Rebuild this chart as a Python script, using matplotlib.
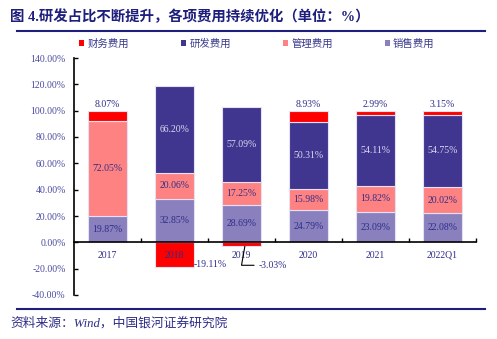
import matplotlib
matplotlib.use("Agg")
import matplotlib.pyplot as plt
from matplotlib.patches import Patch
from matplotlib.lines import Line2D
import numpy as np

plt.rcParams['font.family'] = ['Liberation Serif', 'Noto Sans CJK SC', 'DejaVu Sans']
plt.rcParams['axes.unicode_minus'] = False

categories = ['2017', '2018', '2019', '2020', '2021', '2022Q1']
sales = [19.87, 32.85, 28.69, 24.79, 23.09, 22.08]
mgmt = [72.05, 20.06, 17.25, 15.98, 19.82, 20.02]
rnd = [0.0, 66.20, 57.09, 50.31, 54.11, 54.75]
finance = [8.07, -19.11, -3.03, 8.93, 2.99, 3.15]
yticks = [-40, -20, 0, 20, 40, 60, 80, 100, 120, 140]

series_names = ['财务费用', '研发费用', '管理费用', '销售费用']
c_fin = '#FF0000'
c_rnd = '#40358F'
c_mgmt = '#FF8282'
c_sales = '#8A80BE'
navy = '#2E2E88'
tick_col = '#4A4AA0'
edge = '#E4E2F2'

fig = plt.figure(figsize=(4.97, 3.39), dpi=100)
ax = fig.add_axes([74/497, 1-295/339, (476-74)/497, (295-58)/339])

x = np.arange(len(categories))
w = 0.58
sales_a = np.array(sales); mgmt_a = np.array(mgmt); rnd_a = np.array(rnd); fin_a = np.array(finance)

ax.bar(x, sales_a, w, color=c_sales, edgecolor=edge, linewidth=0.8, zorder=1)
ax.bar(x, mgmt_a, w, bottom=sales_a, color=c_mgmt, edgecolor=edge, linewidth=0.8, zorder=1)
ax.bar(x, rnd_a, w, bottom=sales_a+mgmt_a, color=c_rnd, edgecolor=edge, linewidth=0.8, zorder=1)
top = sales_a + mgmt_a + rnd_a
fin_bottom = np.where(fin_a >= 0, top, 0)
ax.bar(x, fin_a, w, bottom=fin_bottom, color=c_fin, edgecolor=edge, linewidth=0.8, zorder=1)

fs = 7
for i in range(len(x)):
    ax.text(x[i], sales_a[i]/2, f'{sales[i]:.2f}%', ha='center', va='center', fontsize=fs, color=navy, zorder=3)
    ax.text(x[i], sales_a[i] + mgmt_a[i]/2, f'{mgmt[i]:.2f}%', ha='center', va='center', fontsize=fs, color=navy, zorder=3)
    if rnd[i] > 0:
        ax.text(x[i], sales_a[i] + mgmt_a[i] + rnd_a[i]/2, f'{rnd[i]:.2f}%', ha='center', va='center', fontsize=fs, color='#DCDAF2', zorder=3)
    if finance[i] >= 0:
        ax.annotate(f'{finance[i]:.2f}%', (x[i], top[i] + fin_a[i]), xytext=(0, 1.5), textcoords='offset points',
                    ha='center', va='bottom', fontsize=fs, color=navy, zorder=3)

# negative finance labels
ax.text(x[1] + w/2, finance[1] + 2, f'{finance[1]:.2f}%', ha='left', va='center', fontsize=fs, color=navy, zorder=3)
ax.annotate(f'{finance[2]:.2f}%', xy=(x[2] + 0.05, finance[2]), xytext=(x[2] + 0.25, finance[2] - 14.4),
            ha='left', va='center', fontsize=fs, color=navy, zorder=3,
            arrowprops=dict(arrowstyle='-', color='black', lw=0.8, shrinkA=1, shrinkB=0, relpos=(0, 0.5),
                            connectionstyle='angle,angleA=0,angleB=80,rad=0'))

ax.set_xlim(-0.5, len(x) - 0.5)
ax.set_ylim(-40, 140)
ax.set_yticks(yticks)
ax.set_yticklabels([f'{v:.2f}%' for v in yticks])
ax.tick_params(axis='y', direction='in', length=3, width=1, colors='black', labelcolor=tick_col, labelsize=fs, pad=6)

ax.set_xticks(np.arange(len(x)) + 0.5)
ax.set_xticklabels([])
ax.tick_params(axis='x', which='major', direction='in', length=3, width=1, color='black')
ax.set_xticks(x, minor=True)
ax.set_xticklabels(categories, minor=True)
ax.tick_params(axis='x', which='minor', length=0, labelsize=fs, labelcolor=navy, pad=6)

ax.spines['top'].set_visible(False)
ax.spines['right'].set_visible(False)
ax.spines['bottom'].set_position(('data', 0))
ax.spines['left'].set_linewidth(1.2)
ax.spines['bottom'].set_linewidth(1.2)

# legend
handles = [Patch(facecolor=c, edgecolor='none') for c in [c_fin, c_rnd, c_mgmt, c_sales]]
leg = fig.legend(handles, series_names, loc='center left', bbox_to_anchor=(79/497, 1-44/339), ncol=4,
                 frameon=False, fontsize=7.5, handlelength=0.5, handleheight=0.5, handletextpad=0.3,
                 columnspacing=5.0, borderpad=0, borderaxespad=0)
for t in leg.get_texts():
    t.set_color('#3A3A8C')

# title and lines
fig.text(10/497, 1-17/339, '图 4.研发占比不断提升，各项费用持续优化（单位：%）', fontsize=10.4, fontweight='bold',
         color='#1E1E7C', ha='left', va='center')
fig.add_artist(Line2D([17/497, 485/497], [1-31/339, 1-31/339], color='#1E1E7C', lw=1.5))
fig.add_artist(Line2D([17/497, 485/497], [1-309/339, 1-309/339], color='#1E1E7C', lw=1.5))
fig.text(10/497, 1-323/339, '资料来源：Wind，中国银河证券研究院', fontsize=9.2, fontstyle='italic',
         color='#2E2E88', ha='left', va='center')

fig.savefig('out.png', dpi=100, facecolor='white')
